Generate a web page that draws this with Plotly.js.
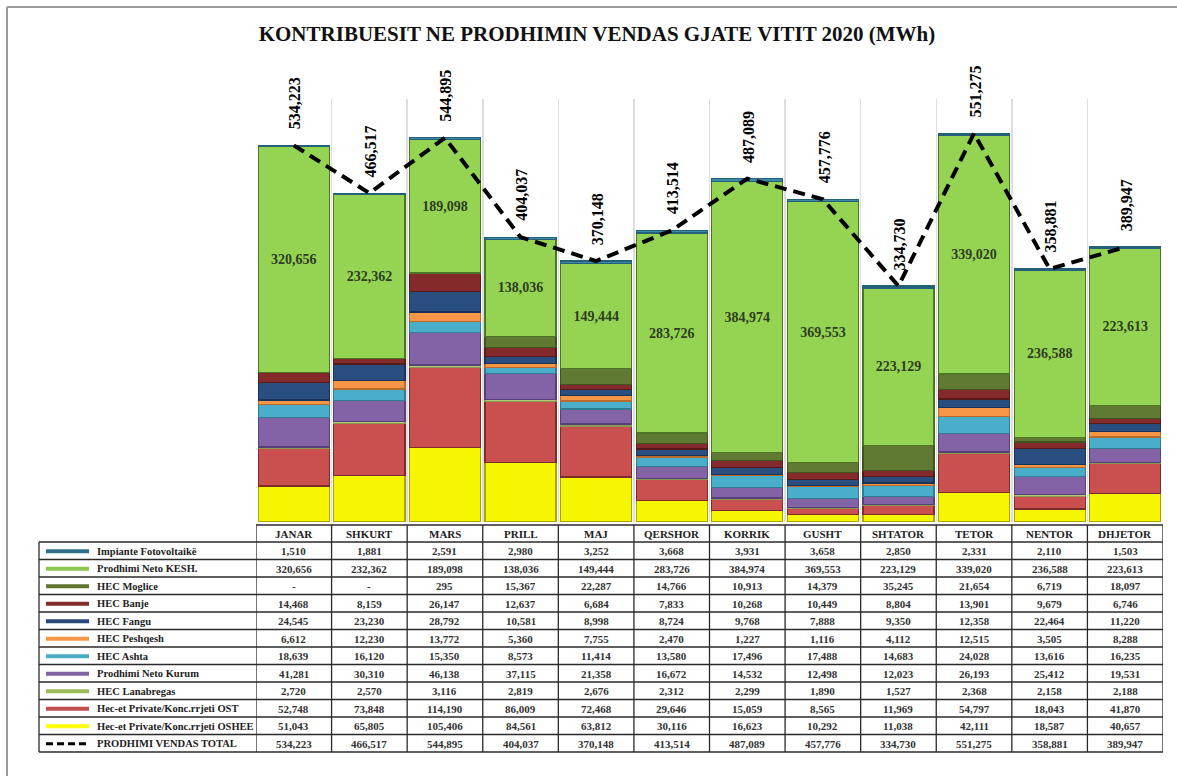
<!DOCTYPE html>
<html><head><meta charset="utf-8">
<script src="https://cdn.plot.ly/plotly-3.0.1.min.js"></script>
<style>html,body{margin:0;padding:0;background:#fff;} #chart{width:1177px;height:776px;}</style>
</head><body><div id="chart"></div>
<script>
// ---------- DATA ----------
const months = ["JANAR","SHKURT","MARS","PRILL","MAJ","QERSHOR","KORRIK","GUSHT","SHTATOR","TETOR","NENTOR","DHJETOR"];
const fotovoltaike = [1510,1881,2591,2980,3252,3668,3931,3658,2850,2331,2110,1503];
const neto_kesh   = [320656,232362,189098,138036,149444,283726,384974,369553,223129,339020,236588,223613];
const hec_moglice = [null,null,295,15367,22287,14766,10913,14379,35245,21654,6719,18097];
const hec_banje   = [14468,8159,26147,12637,6684,7833,10268,10449,8804,13901,9679,6746];
const hec_fangu   = [24545,23230,28792,10581,8998,8724,9768,7888,9350,12358,22464,11220];
const hec_peshqesh= [6612,12230,13772,5360,7755,2470,1227,1116,4112,12515,3505,8288];
const hec_ashta   = [18639,16120,15350,8573,11414,13580,17496,17488,14683,24028,13616,16235];
const neto_kurum  = [41281,30310,46138,37115,21358,16672,14532,12498,12023,26193,25412,19531];
const hec_lanabregas = [2720,2570,3116,2819,2676,2312,2299,1890,1527,2368,2158,2188];
const private_ost = [52748,73848,114190,86009,72468,29646,15059,8565,11969,54797,18043,41870];
const private_oshee = [51043,65805,105406,84561,63812,30116,16623,10292,11038,42111,18587,40657];
const total_vendas = [534223,466517,544895,404037,370148,413514,487089,457776,334730,551275,358881,389947];

const nameFoto = "Impiante Fotovoltaikë";
const nameKesh = "Prodhimi Neto KESH.";
const nameMoglice = "HEC Moglice";
const nameBanje = "HEC Banje";
const nameFangu = "HEC Fangu";
const namePeshqesh = "HEC Peshqesh";
const nameAshta = "HEC Ashta";
const nameKurum = "Prodhimi Neto Kurum";
const nameLanabregas = "HEC Lanabregas";
const nameOst = "Hec-et Private/Konc.rrjeti OST";
const nameOshee = "Hec-et Private/Konc.rrjeti OSHEE";
const nameTotal = "PRODHIMI VENDAS TOTAL";
const chartTitle = "KONTRIBUESIT NE PRODHIMIN VENDAS GJATE VITIT 2020 (MWh)";

// ---------- STYLE ----------
const SERIF = "Liberation Serif";
// stacking order bottom -> top
const stack = [
  {name:nameOshee, v:private_oshee, c:"#F6F600", lc:"#A8A800", sw:"#FFFF00"},
  {name:nameOst, v:private_ost, c:"#C9504F", lc:"#7E2B2A", sw:"#C0504D"},
  {name:nameLanabregas, v:hec_lanabregas, c:"#B9C77A", lc:"#8A9950", sw:"#9BBB59"},
  {name:nameKurum, v:neto_kurum, c:"#8462A6", lc:"#55407A", sw:"#8064A2"},
  {name:nameAshta, v:hec_ashta, c:"#4AAECA", lc:"#2F7C92", sw:"#4BACC6"},
  {name:namePeshqesh, v:hec_peshqesh, c:"#F79646", lc:"#B86A2C", sw:"#F79646"},
  {name:nameFangu, v:hec_fangu, c:"#2A4E80", lc:"#1A3358", sw:"#27497A"},
  {name:nameBanje, v:hec_banje, c:"#842A2A", lc:"#561A1A", sw:"#862B2B"},
  {name:nameMoglice, v:hec_moglice, c:"#617A33", lc:"#3F5220", sw:"#5F7530"},
  {name:nameKesh, v:neto_kesh, c:"#95D453", lc:"#4C7526", sw:"#8CC850"},
  {name:nameFoto, v:fotovoltaike, c:"#3C8AA8", lc:"#25607A", sw:"#31708A"}
];

const L=256, R=1163, T=99, B=522;
const px = X => (X-L)/(R-L);
const py = Y => (B-Y)/(B-T);
const fmt = v => (v===null||v===undefined) ? "-" : v.toLocaleString("en-US");

const traces = stack.map(s => {
  const t = {
    type:"bar", name:s.name, x:months, y:s.v.map(v=>v===null?0:v),
    marker:{color:s.c, line:{color:s.lc, width:1.2}},
    hoverinfo:"x+y+name"
  };
  if (s.name===nameKesh) {
    t.texttemplate = "<b>%{y:,}</b>";
    t.textposition = "inside";
    t.insidetextanchor = "middle";
    t.textangle = 0;
    t.constraintext = "none";
    t.textfont = {family:SERIF, size:14, color:"#2E3D20"};
  } else {
    t.textposition = "none";
  }
  return t;
});
traces.push({
  type:"scatter", mode:"lines", name:nameTotal, x:months, y:total_vendas,
  line:{color:"#000", width:4, dash:"12px,7px"}, cliponaxis:false
});

const annotations = [];
const shapes = [];

// total labels (rotated)
months.forEach((m,i)=>{
  annotations.push({xref:"x", yref:"y", x:m, y:total_vendas[i], text:"<b>"+fmt(total_vendas[i])+"</b>",
    textangle:-90, showarrow:false, yanchor:"bottom", xanchor:"center", yshift:14, xshift:1,
    font:{family:SERIF, size:16, color:"#000"}});
});

// ---------- TABLE ----------
const headTop=525, rowTop=542, rowH=17.5;
const tableRows = stack.slice().reverse().map(s=>({name:s.name, v:s.v, sw:s.sw}));
tableRows.push({name:nameTotal, v:total_vendas, sw:"#000", dash:true});
const nRows = tableRows.length;
const tableBottom = rowTop + nRows*rowH;
const border = {color:"#2a2a2a", width:1.3};

// header
shapes.push({type:"line", xref:"x", yref:"paper", x0:-0.5, x1:11.5, y0:py(headTop), y1:py(headTop), line:border});
months.forEach((m,i)=>{
  annotations.push({xref:"x", yref:"paper", x:i, y:py(headTop+(rowTop-headTop)/2+0.5), text:"<b>"+m+"</b>", showarrow:false,
    xanchor:"center", yanchor:"middle", font:{family:SERIF, size:11, color:"#222"}});
});
// horizontal lines
for (let k=0;k<=nRows;k++){
  const Y=rowTop+k*rowH;
  shapes.push({type:"line", xref:"paper", yref:"paper", x0:px(39), x1:1, y0:py(Y), y1:py(Y), line:border});
}
// vertical lines
shapes.push({type:"line", xref:"paper", yref:"paper", x0:px(39), x1:px(39), y0:py(rowTop), y1:py(tableBottom), line:border});
for (let i=0;i<=months.length;i++){
  shapes.push({type:"line", xref:"x", yref:"paper", x0:i-0.5, x1:i-0.5, y0:py(headTop), y1:py(tableBottom), line:border});
}
// rows
tableRows.forEach((r,k)=>{
  const yc = py(rowTop+k*rowH+rowH/2+0.5);
  shapes.push({type:"line", xref:"paper", yref:"paper", x0:px(46), x1:px(89), y0:yc, y1:yc,
    line:{color:r.sw, width:r.dash?3:4, dash:r.dash?"7px,4px":"solid"}});
  annotations.push({xref:"paper", yref:"paper", x:px(95), y:yc, text:"<b>"+r.name+"</b>", showarrow:false,
    xanchor:"left", yanchor:"middle", font:{family:SERIF, size:10.5, color:"#222"}});
  months.forEach((m,i)=>{
    annotations.push({xref:"x", yref:"paper", x:i, y:yc, text:"<b>"+fmt(r.v[i])+"</b>", showarrow:false,
      xanchor:"center", yanchor:"middle", font:{family:SERIF, size:11, color:"#333"}});
  });
});

// outer frame (left and top)
shapes.push({type:"line", xref:"paper", yref:"paper", x0:px(7), x1:px(7), y0:py(7), y1:py(776), line:{color:"#9a9a9a", width:2}});
shapes.push({type:"line", xref:"paper", yref:"paper", x0:px(7), x1:px(1177), y0:py(7), y1:py(7), line:{color:"#9a9a9a", width:2}});

const layout = {
  width:1177, height:776,
  margin:{l:L, r:1177-R, t:T, b:776-B, pad:0},
  paper_bgcolor:"#fff", plot_bgcolor:"#fff",
  barmode:"stack", bargap:0.06,
  showlegend:false,
  font:{family:SERIF},
  title:{text:"<b>"+chartTitle+"</b>", xref:"container", x:597/1177, xanchor:"center", yref:"container", y:1-34/776, yanchor:"middle",
    font:{family:SERIF, size:21, color:"#111"}},
  xaxis:{type:"category", range:[-0.5,11.5], showticklabels:false, ticks:"", tickson:"boundaries",
    showgrid:true, gridcolor:"#dedede", gridwidth:1.5, showline:false, zeroline:false, fixedrange:true},
  yaxis:{range:[0,600000], showticklabels:false, showgrid:false, zeroline:false, showline:false, fixedrange:true},
  annotations, shapes
};

Plotly.newPlot("chart", traces, layout, {displayModeBar:false, staticPlot:true});
</script>
</body></html>
